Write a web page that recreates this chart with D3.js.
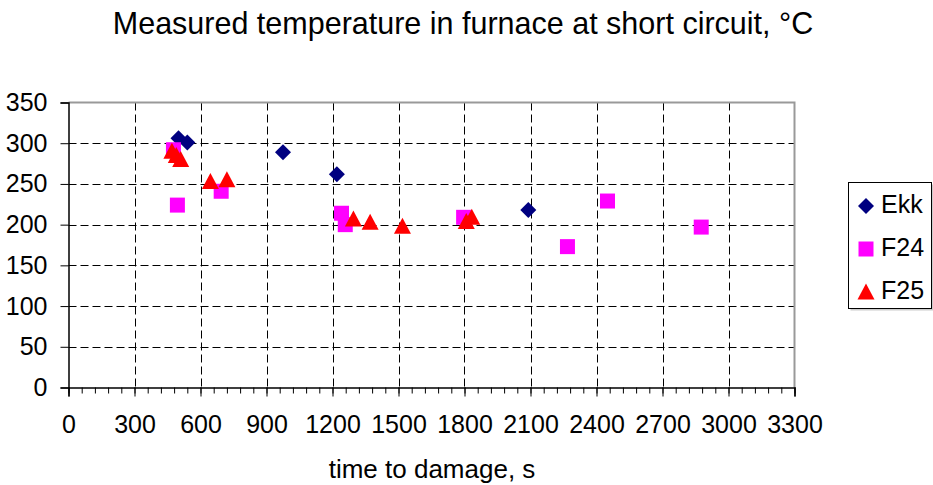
<!DOCTYPE html>
<html>
<head>
<meta charset="utf-8">
<script src="https://cdn.jsdelivr.net/npm/d3@7"></script>
<style>
  html, body { margin: 0; padding: 0; background: #fff; }
  svg { display: block; font-family: "Liberation Sans", Arial, sans-serif; }
</style>
</head>
<body>
<svg id="chart" width="933" height="485"></svg>
<script>
// Short-circuit furnace measurements: time to damage (s) vs temperature (°C)
const ekkTime = [500, 540, 975, 1220, 2090];
const ekkTemp = [306, 301, 289, 262, 218];

const f24Time = [477, 495, 694, 1241, 1258, 1796, 2268, 2450, 2876];
const f24Temp = [292, 224, 241, 214, 200, 209, 173, 229, 197];

const f25Time = [470, 490, 510, 645, 720, 1295, 1371, 1518, 1808, 1833];
const f25Temp = [290, 285, 280, 253, 255, 207, 203, 198, 204, 209];

const xTicks = [0, 300, 600, 900, 1200, 1500, 1800, 2100, 2400, 2700, 3000, 3300];
const yTicks = [0, 50, 100, 150, 200, 250, 300, 350];

const series = [
  { name: "Ekk", color: "#000080", shape: "diamond", time: ekkTime, temp: ekkTemp },
  { name: "F24", color: "#FF00FF", shape: "square",  time: f24Time, temp: f24Temp },
  { name: "F25", color: "#FF0000", shape: "triangle", time: f25Time, temp: f25Temp }
];

const FONT = "Liberation Sans, Arial, sans-serif";
const svg = d3.select("#chart");
const plot = { left: 68.5, right: 794.5, top: 102.5, bottom: 387.5 };

const x = d3.scaleLinear().domain([0, 3300]).range([plot.left, plot.right]);
const y = d3.scaleLinear().domain([0, 350]).range([plot.bottom, plot.top]);

// Title
svg.append("text")
  .attr("x", 463).attr("y", 34)
  .attr("text-anchor", "middle")
  .attr("font-size", 30.5)
  .text("Measured temperature in furnace at short circuit, °C");

// Grid
const grid = svg.append("g").attr("stroke", "#000").attr("stroke-width", 1)
  .attr("stroke-dasharray", "8,4").attr("fill", "none");
grid.selectAll("line.h").data(yTicks.filter(d => d > 0 && d < 350)).join("line")
  .attr("class", "h")
  .attr("x1", plot.left).attr("x2", plot.right)
  .attr("y1", d => Math.round(y(d)) + 0.5).attr("y2", d => Math.round(y(d)) + 0.5);
grid.selectAll("line.v").data(xTicks.filter(d => d > 0 && d < 3300)).join("line")
  .attr("class", "v")
  .attr("y1", plot.top).attr("y2", plot.bottom)
  .attr("x1", d => Math.round(x(d)) + 0.5).attr("x2", d => Math.round(x(d)) + 0.5);

// Top and right frame
svg.append("path")
  .attr("d", `M${plot.left},${plot.top}H${plot.right}V${plot.bottom}`)
  .attr("fill", "none").attr("stroke", "#999").attr("stroke-width", 2);

// Y axis
const yAxis = svg.append("g")
  .attr("transform", `translate(${plot.left},0)`)
  .call(d3.axisLeft(y).tickValues(yTicks).tickSize(8).tickPadding(13).tickFormat(d3.format("d")));
yAxis.select(".domain").attr("stroke", "#000").attr("stroke-width", 1.5);
yAxis.selectAll(".tick line").attr("stroke", "#000");
yAxis.selectAll(".tick text").attr("font-size", 25).attr("fill", "#000")
  .attr("font-family", FONT);

// X axis: minor ticks every 60 s, major every 300 s
const xMinor = svg.append("g")
  .attr("transform", `translate(0,${plot.bottom})`)
  .call(d3.axisBottom(x).tickValues(d3.range(0, 3301, 60)).tickSize(6).tickFormat(""));
xMinor.select(".domain").remove();
xMinor.selectAll(".tick line").attr("stroke", "#000");

const xAxis = svg.append("g")
  .attr("transform", `translate(0,${plot.bottom})`)
  .call(d3.axisBottom(x).tickValues(xTicks).tickSize(9).tickPadding(19).tickFormat(d3.format("d")));
xAxis.select(".domain").attr("stroke", "#000").attr("stroke-width", 1.5);
xAxis.selectAll(".tick line").attr("stroke", "#000");
xAxis.selectAll(".tick text").attr("font-size", 25).attr("fill", "#000")
  .attr("font-family", FONT);

// X axis title
svg.append("text")
  .attr("x", 432).attr("y", 478)
  .attr("text-anchor", "middle")
  .attr("font-size", 26)
  .text("time to damage, s");

// Marker shapes
function markerPath(shape) {
  if (shape === "diamond") return "M0,-8L8,0L0,8L-8,0Z";
  if (shape === "square") return "M-7.5,-7.5H7.5V7.5H-7.5Z";
  return "M0,-8.5L8.5,7.5H-8.5Z";
}

const marks = svg.append("g");
series.forEach(s => {
  const pts = s.time.map((t, i) => ({ t, v: s.temp[i] }));
  marks.append("g").selectAll("path").data(pts).join("path")
    .attr("d", markerPath(s.shape))
    .attr("transform", d => `translate(${x(d.t)},${y(d.v)})`)
    .attr("fill", s.color);
});

// Legend
const legend = svg.append("g");
legend.append("rect")
  .attr("x", 850.5).attr("y", 184.5).attr("width", 83).attr("height", 126)
  .attr("fill", "#ccc");
legend.append("rect")
  .attr("x", 848.5).attr("y", 182.5).attr("width", 83).attr("height", 126)
  .attr("fill", "#fff").attr("stroke", "#000").attr("stroke-width", 1);
const rows = legend.selectAll("g.row").data(series).join("g")
  .attr("class", "row")
  .attr("transform", (d, i) => `translate(866,${206 + i * 43})`);
rows.append("path").attr("d", d => markerPath(d.shape)).attr("fill", d => d.color);
rows.append("text").attr("x", 15).attr("y", 7).attr("font-size", 25).text(d => d.name);
</script>
</body>
</html>
